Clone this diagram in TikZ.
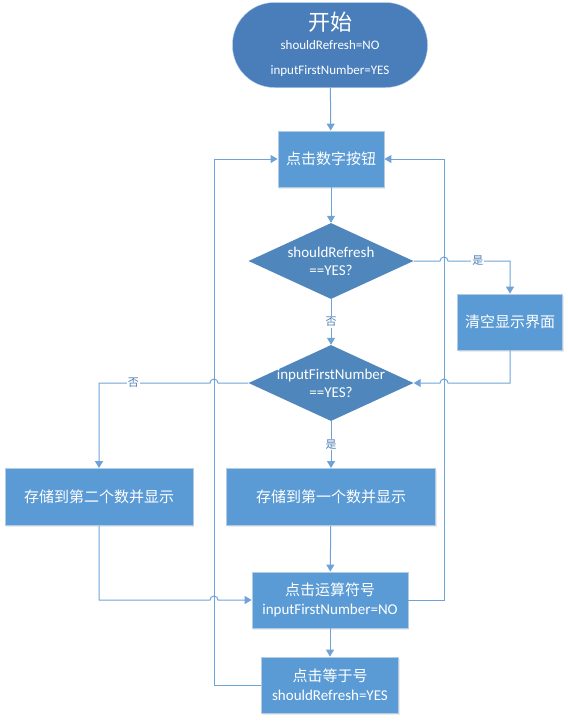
\documentclass[tikz,border=0pt]{standalone}
\usepackage{fontspec}
\setmainfont{Carlito}
\newfontfamily\cjk{Noto Sans CJK SC}
\usetikzlibrary{shapes.geometric,arrows.meta,calc,shadows}

\definecolor{pillblue}{HTML}{4A7EBB}
\definecolor{diamblue}{HTML}{4F86BC}
\definecolor{boxblue}{HTML}{5B9BD5}
\definecolor{boxedge}{HTML}{B4CBE6}
\definecolor{lineblue}{HTML}{6FA3D8}
\definecolor{lblblue}{HTML}{4F7FB5}

\tikzset{
  startpill/.style={rectangle, rounded corners=42pt, fill=pillblue, draw=boxedge,
    minimum width=195pt, minimum height=85pt, inner sep=0pt},
  procbox/.style={rectangle, fill=boxblue, draw=boxedge, line width=0.8pt, text=white,
    align=center, inner sep=0pt, font=\fontsize{15}{19}\selectfont,
    drop shadow={opacity=0.15, shadow xshift=1pt, shadow yshift=-1.5pt}},
  decision/.style={diamond, fill=diamblue, inner sep=0pt, aspect=2.17,
    minimum width=165pt, minimum height=76pt},
  dectext/.style={text=white, align=center, font=\fontsize{15}{18}\selectfont},
  flow/.style={draw=lineblue, line width=1pt, -{Triangle[length=7pt,width=8pt]}},
  lbl/.style={fill=white, text=lblblue, inner sep=1pt, font=\cjk\fontsize{11}{13}\selectfont}
}

\begin{document}
\begin{tikzpicture}[x=1pt,y=1pt]
  \useasboundingbox (0,0) rectangle (568,-721);

  % nodes
  \node[startpill] (start) at (330,-45) {};
  \node[text=white, font=\cjk\fontsize{22}{24}\selectfont] (starttitle) at (330,-22) {开始};
  \node[text=white, font=\fontsize{13}{15}\selectfont] (startrefresh) at (330,-45) {shouldRefresh=NO};
  \node[text=white, font=\fontsize{13}{15}\selectfont] (startfirst) at (330,-71) {inputFirstNumber=YES};

  \node[procbox, minimum width=106pt, minimum height=56pt] (digit) at (331,-159) {{\cjk 点击数字按钮}};
  \node[decision] (refresh) at (331,-261) {};
  \node[dectext] (refreshtext) at (refresh) {shouldRefresh\\==YES?};
  \node[procbox, minimum width=105pt, minimum height=56pt] (clear) at (510,-322) {{\cjk 清空显示界面}};
  \node[decision] (first) at (331,-383) {};
  \node[dectext] (firsttext) at (first) {inputFirstNumber\\==YES?};
  \node[procbox, minimum width=188pt, minimum height=57pt] (second) at (99,-497) {{\cjk 存储到第二个数并显示}};
  \node[procbox, minimum width=209pt, minimum height=57pt] (one) at (331,-497) {{\cjk 存储到第一个数并显示}};
  \node[procbox, minimum width=156pt, minimum height=56pt] (oper) at (330,-600) {{\cjk 点击运算符号}\\inputFirstNumber=NO};
  \node[procbox, minimum width=137pt, minimum height=56pt] (equal) at (330,-685) {{\cjk 点击等于号}\\shouldRefresh=YES};

  % loop columns
  \coordinate (rx) at (444,0);
  \coordinate (lx) at (214,0);

  % connectors
  \draw[flow] (start) -- (digit);
  \draw[flow] (digit) -- (refresh);
  \draw[flow] (oper.east) -- (rx|-oper.east) -- (rx|-digit.east) -- (digit.east);
  \draw[flow] (equal.west) -- (lx|-equal.west) -- (lx|-digit.west) -- (digit.west);
  \draw[flow] (refresh.east) -- ($(rx|-refresh.east)+(-4,0)$) arc[start angle=180,end angle=0,radius=4pt]
    -- node[lbl, pos=0.48] {是} (clear.north|-refresh.east) -- (clear.north);
  \draw[flow] (refresh.south) -- node[lbl] {否} (first.north);
  \draw[flow] (clear.south) |- ($(rx|-first.east)+(4,0)$) arc[start angle=0,end angle=180,radius=4pt] -- (first.east);
  \draw[flow] (first.west) -- ($(lx|-first.west)+(4,0)$) arc[start angle=0,end angle=180,radius=4pt]
    -- node[lbl, pos=0.69] {否} (second.north|-first.west) -- (second.north);
  \draw[flow] (first.south) -- node[lbl] {是} (one.north);
  \draw[flow] (one) -- (oper);
  \draw[flow] (second.south) |- ($(lx|-oper.west)+(-4,0)$) arc[start angle=180,end angle=0,radius=4pt] -- (oper.west);
  \draw[flow] (oper) -- (equal);
\end{tikzpicture}
\end{document}
